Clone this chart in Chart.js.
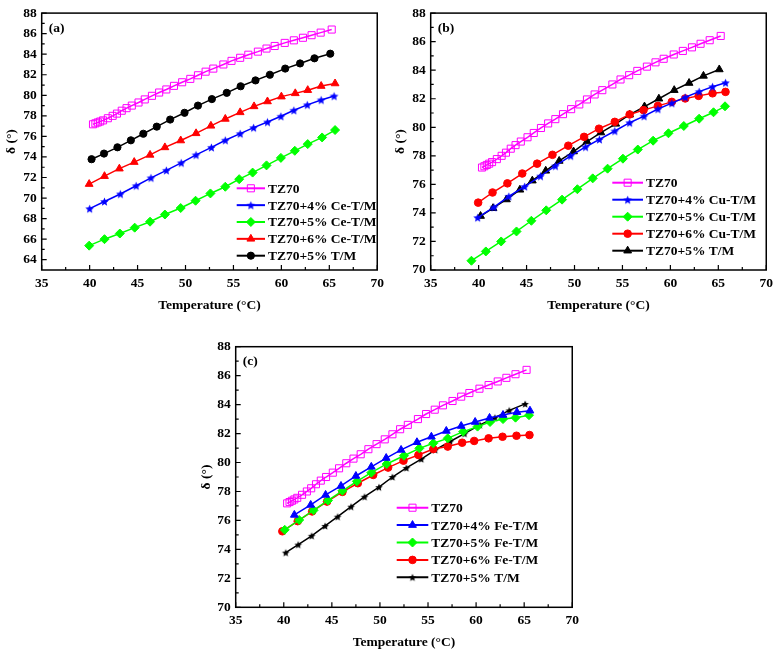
<!DOCTYPE html>
<html>
<head>
<meta charset="utf-8">
<title>δ vs temperature</title>
<script src="https://cdn.jsdelivr.net/npm/chart.js@4.4.1/dist/chart.umd.min.js"></script>
<style>
  html, body { margin: 0; padding: 0; background: #fff; }
  body { width: 778px; height: 654px; position: relative; overflow: hidden; }
  canvas { position: absolute; }
</style>
</head>
<body>
<canvas id="chartA" width="389" height="320" style="left:0;top:0"></canvas>
<canvas id="chartB" width="389" height="320" style="left:389px;top:0"></canvas>
<canvas id="chartC" width="389" height="324" style="left:195px;top:330px"></canvas>
<script>
'use strict';

// axis ticks
const xTicks = [35, 40, 45, 50, 55, 60, 65, 70];
const yTicksA = [64, 66, 68, 70, 72, 74, 76, 78, 80, 82, 84, 86, 88];
const yTicksBC = [70, 72, 74, 76, 78, 80, 82, 84, 86, 88];

// TZ70 baseline (same curve in every panel)
const tz70Temp = [40.35, 40.6, 40.85, 41.1, 41.4, 41.9, 42.4, 42.85, 43.35, 43.85, 44.4, 45.1, 45.75, 46.5, 47.25, 48.0, 48.8, 49.65, 50.5, 51.3, 52.1, 52.9, 53.95, 54.8, 55.7, 56.55, 57.55, 58.45, 59.3, 60.35, 61.3, 62.25, 63.15, 64.1, 65.25];
const tz70Delta = [77.18, 77.27, 77.36, 77.45, 77.56, 77.77, 78.0, 78.22, 78.5, 78.75, 79.0, 79.3, 79.6, 79.95, 80.27, 80.57, 80.92, 81.27, 81.6, 81.95, 82.3, 82.6, 83.0, 83.35, 83.65, 83.95, 84.25, 84.55, 84.8, 85.1, 85.35, 85.6, 85.85, 86.1, 86.4];

// TZ70+5% T/M (same curve in every panel)
const tmTemp = [40.2, 41.5, 42.9, 44.3, 45.6, 47.0, 48.4, 49.9, 51.3, 52.75, 54.3, 55.75, 57.3, 58.8, 60.4, 61.95, 63.45, 65.1];
const tmDelta = [73.78, 74.33, 74.94, 75.62, 76.26, 76.95, 77.64, 78.3, 79.0, 79.63, 80.24, 80.88, 81.45, 82.0, 82.6, 83.1, 83.6, 84.05];

// (a) Ce
const ce4Temp = [40.0, 41.55, 43.2, 44.85, 46.4, 48.0, 49.55, 51.1, 52.7, 54.15, 55.7, 57.1, 58.55, 59.95, 61.3, 62.7, 64.15, 65.5];
const ce4Delta = [68.97, 69.67, 70.4, 71.2, 71.97, 72.7, 73.43, 74.2, 74.93, 75.63, 76.27, 76.85, 77.4, 77.96, 78.54, 79.07, 79.55, 79.93];
const ce5Temp = [39.95, 41.55, 43.15, 44.7, 46.3, 47.85, 49.5, 51.05, 52.6, 54.15, 55.6, 57.0, 58.45, 59.95, 61.4, 62.75, 64.25, 65.6];
const ce5Delta = [65.37, 66.0, 66.55, 67.12, 67.7, 68.4, 69.03, 69.74, 70.45, 71.1, 71.84, 72.48, 73.18, 73.91, 74.6, 75.25, 75.9, 76.62];
const ce6Temp = [39.95, 41.55, 43.1, 44.65, 46.3, 47.85, 49.5, 51.1, 52.65, 54.15, 55.7, 57.15, 58.55, 60.0, 61.45, 62.75, 64.15, 65.6];
const ce6Delta = [71.36, 72.13, 72.86, 73.5, 74.2, 74.93, 75.6, 76.3, 77.03, 77.7, 78.34, 78.92, 79.4, 79.87, 80.19, 80.5, 80.9, 81.15];

// (b) Cu
const cu4Temp = [39.9, 41.6, 43.15, 44.8, 46.45, 48.0, 49.6, 51.15, 52.6, 54.2, 55.75, 57.25, 58.7, 60.15, 61.55, 63.0, 64.4, 65.75];
const cu4Delta = [73.67, 74.4, 75.16, 75.85, 76.58, 77.29, 78.0, 78.62, 79.15, 79.74, 80.32, 80.78, 81.28, 81.69, 82.1, 82.5, 82.84, 83.12];
const cu5Temp = [39.25, 40.75, 42.35, 43.95, 45.5, 47.05, 48.7, 50.3, 51.9, 53.45, 55.05, 56.6, 58.2, 59.8, 61.4, 63.0, 64.5, 65.7];
const cu5Delta = [70.65, 71.3, 72.0, 72.7, 73.45, 74.18, 74.93, 75.66, 76.42, 77.1, 77.8, 78.44, 79.06, 79.58, 80.09, 80.6, 81.05, 81.47];
const cu6Temp = [39.95, 41.45, 43.0, 44.55, 46.1, 47.7, 49.35, 51.0, 52.55, 54.2, 55.75, 57.2, 58.7, 60.15, 61.55, 62.95, 64.4, 65.75];
const cu6Delta = [74.72, 75.43, 76.07, 76.76, 77.45, 78.07, 78.71, 79.33, 79.9, 80.38, 80.9, 81.2, 81.5, 81.78, 82.02, 82.2, 82.38, 82.48];

// (c) Fe
const fe4Temp = [41.1, 42.8, 44.35, 45.95, 47.5, 49.1, 50.65, 52.2, 53.85, 55.35, 56.9, 58.45, 59.9, 61.4, 62.8, 64.25, 65.6];
const fe4Delta = [76.38, 77.07, 77.76, 78.38, 79.07, 79.7, 80.31, 80.87, 81.4, 81.78, 82.18, 82.52, 82.8, 83.08, 83.28, 83.48, 83.58];
const fe5Temp = [40.1, 41.6, 43.1, 44.6, 46.1, 47.6, 49.1, 50.7, 52.5, 54.1, 55.55, 57.05, 58.65, 60.15, 61.45, 62.8, 64.1, 65.5];
const fe5Delta = [75.35, 76.03, 76.7, 77.38, 78.05, 78.7, 79.3, 79.9, 80.47, 80.98, 81.33, 81.67, 82.13, 82.48, 82.8, 83.0, 83.1, 83.27];
const fe6Temp = [39.85, 41.45, 42.95, 44.5, 46.1, 47.7, 49.3, 50.85, 52.45, 54.0, 55.55, 57.05, 58.55, 59.8, 61.3, 62.75, 64.2, 65.55];
const fe6Delta = [75.25, 75.95, 76.62, 77.3, 77.97, 78.57, 79.14, 79.65, 80.13, 80.52, 80.93, 81.1, 81.37, 81.49, 81.67, 81.78, 81.85, 81.9];

const FONT = { family: '"Liberation Serif", "Times New Roman", serif', size: 13.5, weight: 'bold' };

// filled five-point star, used as an image point style
function starMarker(color, r) {
    const c = document.createElement('canvas');
    const s = Math.ceil(r * 2 + 2);
    c.width = s;
    c.height = s;
    const ctx = c.getContext('2d');
    ctx.fillStyle = color;
    ctx.beginPath();
    for (let i = 0; i < 10; i++) {
        const rad = i % 2 ? r * 0.45 : r;
        const a = -Math.PI / 2 + i * Math.PI / 5;
        ctx.lineTo(s / 2 + rad * Math.cos(a), s / 2 + rad * Math.sin(a) + 0.5);
    }
    ctx.closePath();
    ctx.fill();
    return c;
}

function series(label, temps, deltas, color, style, radius, hollow) {
    return {
        label: label,
        data: temps.map((t, i) => ({ x: t, y: deltas[i] })),
        borderColor: color,
        backgroundColor: color,
        pointBackgroundColor: hollow ? 'rgba(0,0,0,0)' : color,
        pointBorderColor: color,
        borderWidth: 1.5,
        pointBorderWidth: 1,
        pointStyle: style,
        pointRadius: radius,
        showLine: true,
        tension: 0
    };
}

// box, inward ticks, panel tag and in-plot legend
const framePlugin = {
    id: 'frame',
    afterDraw(chart, args, opts) {
        const { ctx, chartArea: a, scales: { x, y } } = chart;
        ctx.save();
        ctx.strokeStyle = '#000';
        ctx.lineWidth = 1.5;
        ctx.strokeRect(a.left, a.top, a.right - a.left, a.bottom - a.top);

        ctx.lineWidth = 1.2;
        ctx.beginPath();
        opts.xTicks.forEach((v, i, arr) => {
            const px = x.getPixelForValue(v);
            ctx.moveTo(px, a.bottom);
            ctx.lineTo(px, a.bottom - 5);
            if (i < arr.length - 1) {
                const m = x.getPixelForValue((v + arr[i + 1]) / 2);
                ctx.moveTo(m, a.bottom);
                ctx.lineTo(m, a.bottom - 3);
            }
        });
        opts.yTicks.forEach((v, i, arr) => {
            const py = y.getPixelForValue(v);
            ctx.moveTo(a.left, py);
            ctx.lineTo(a.left + 5, py);
            if (i < arr.length - 1) {
                const m = y.getPixelForValue((v + arr[i + 1]) / 2);
                ctx.moveTo(a.left, m);
                ctx.lineTo(a.left + 3, m);
            }
        });
        ctx.stroke();

        ctx.fillStyle = '#000';
        ctx.font = 'bold 13.5px "Liberation Serif", serif';
        ctx.textBaseline = 'middle';
        ctx.fillText(opts.tag, a.left + 7, a.top + 15);

        const lg = opts.legend;
        chart.data.datasets.forEach((ds, i) => {
            const ly = lg.y + i * lg.step;
            ctx.strokeStyle = ds.borderColor;
            ctx.lineWidth = 2;
            ctx.beginPath();
            ctx.moveTo(lg.x, ly);
            ctx.lineTo(lg.x + lg.len, ly);
            ctx.stroke();
            ctx.lineWidth = 1;
            ctx.fillStyle = ds.pointBackgroundColor;
            Chart.helpers.drawPoint(ctx, {
                pointStyle: ds.pointStyle,
                radius: ds.pointRadius,
                rotation: 0,
                borderWidth: 1
            }, lg.x + lg.len / 2, ly);
            ctx.fillStyle = '#000';
            ctx.fillText(ds.label, lg.x + lg.len + 3, ly + 1);
        });
        ctx.restore();
    }
};

function makePanel(id, cfg) {
    return new Chart(document.getElementById(id), {
        type: 'scatter',
        data: { datasets: cfg.datasets },
        options: {
            responsive: false,
            animation: false,
            devicePixelRatio: 1,
            layout: { padding: cfg.padding },
            plugins: {
                legend: { display: false },
                tooltip: { enabled: false },
                frame: { tag: cfg.tag, xTicks: xTicks, yTicks: cfg.yTicks, legend: cfg.legend }
            },
            scales: {
                x: {
                    type: 'linear',
                    min: 35,
                    max: 70,
                    border: { display: false },
                    grid: { display: false, drawTicks: false },
                    afterBuildTicks: s => { s.ticks = xTicks.map(v => ({ value: v })); },
                    afterFit: s => { s.height = cfg.xAxisHeight; },
                    ticks: { font: FONT, color: '#000', padding: 5, maxRotation: 0, autoSkip: false },
                    title: { display: true, text: 'Temperature (°C)', font: FONT, color: '#000', padding: 0 }
                },
                y: {
                    type: 'linear',
                    min: cfg.yMin,
                    max: 88,
                    border: { display: false },
                    grid: { display: false, drawTicks: false },
                    afterBuildTicks: s => { s.ticks = cfg.yTicks.map(v => ({ value: v })); },
                    afterFit: s => { s.width = cfg.yAxisWidth; },
                    ticks: { font: FONT, color: '#000', padding: 5, autoSkip: false },
                    title: { display: true, text: 'δ (°)', font: FONT, color: '#000', padding: { top: 3, bottom: 0 } }
                }
            }
        },
        plugins: [framePlugin]
    });
}

const MAGENTA = '#ff00ff', BLUE = '#0000ff', GREEN = '#00ff00', RED = '#ff0000', BLACK = '#000000';

makePanel('chartA', {
    tag: '(a)',
    yMin: 63,
    yTicks: yTicksA,
    padding: { left: 0, top: 8.3, right: 9, bottom: 6.6 },
    yAxisWidth: 41.7,
    xAxisHeight: 43.4,
    legend: { x: 236.7, y: 188.3, step: 16.85, len: 28.3 },
    datasets: [
        series('TZ70', tz70Temp, tz70Delta, MAGENTA, 'rect', 5, true),
        series('TZ70+4% Ce-T/M', ce4Temp, ce4Delta, BLUE, starMarker(BLUE, 4.5), 4),
        series('TZ70+5% Ce-T/M', ce5Temp, ce5Delta, GREEN, 'rectRot', 4.5),
        series('TZ70+6% Ce-T/M', ce6Temp, ce6Delta, RED, 'triangle', 4.5),
        series('TZ70+5% T/M', tmTemp, tmDelta, BLACK, 'circle', 3.6)
    ]
});

makePanel('chartB', {
    tag: '(b)',
    yMin: 70,
    yTicks: yTicksBC,
    padding: { left: 0, top: 8.3, right: 9, bottom: 6.6 },
    yAxisWidth: 41.7,
    xAxisHeight: 43.4,
    legend: { x: 223.3, y: 182.7, step: 17, len: 30.7 },
    datasets: [
        series('TZ70', tz70Temp, tz70Delta, MAGENTA, 'rect', 5, true),
        series('TZ70+4% Cu-T/M', cu4Temp, cu4Delta, BLUE, starMarker(BLUE, 4.5), 4),
        series('TZ70+5% Cu-T/M', cu5Temp, cu5Delta, GREEN, 'rectRot', 4.5),
        series('TZ70+6% Cu-T/M', cu6Temp, cu6Delta, RED, 'circle', 3.8),
        series('TZ70+5% T/M', tmTemp, tmDelta, BLACK, 'triangle', 4.5)
    ]
});

makePanel('chartC', {
    tag: '(c)',
    yMin: 70,
    yTicks: yTicksBC,
    padding: { left: 0, top: 16.7, right: 7.3, bottom: 2.9 },
    yAxisWidth: 40.7,
    xAxisHeight: 43.8,
    legend: { x: 201.7, y: 177.7, step: 17.4, len: 31.6 },
    datasets: [
        series('TZ70', tz70Temp, tz70Delta, MAGENTA, 'rect', 5, true),
        series('TZ70+4% Fe-T/M', fe4Temp, fe4Delta, BLUE, 'triangle', 4.5),
        series('TZ70+5% Fe-T/M', fe5Temp, fe5Delta, GREEN, 'rectRot', 4.5),
        series('TZ70+6% Fe-T/M', fe6Temp, fe6Delta, RED, 'circle', 3.8),
        series('TZ70+5% T/M', tmTemp, tmDelta, BLACK, starMarker(BLACK, 4), 4)
    ]
});
</script>
</body>
</html>
